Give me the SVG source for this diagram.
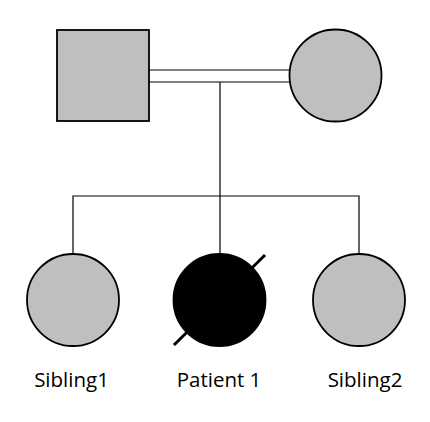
<svg xmlns="http://www.w3.org/2000/svg" width="430" height="422" viewBox="0 0 430 422">
<style>
.ind{fill:#bfbfbf;stroke:#000;stroke-width:1.8}
.aff{fill:#000;stroke:#000;stroke-width:1.8}
.ln{fill:none;stroke:#000;stroke-width:1.2}
.lbl{font-family:"Open Sans","Liberation Sans",sans-serif;font-size:20.5px;fill:#000;text-anchor:middle}
</style>
<rect width="430" height="422" fill="#fff"/>
<g id="connectors">
<line class="ln" x1="149" y1="70" x2="289" y2="70"/>
<line class="ln" x1="149" y1="82" x2="289" y2="82"/>
<line class="ln" x1="220" y1="82" x2="220" y2="254"/>
<polyline class="ln" points="73,254 73,196 359,196 359,254"/>
</g>
<g id="father"><rect class="ind" x="57" y="30" width="92" height="91"/></g>
<g id="mother"><circle class="ind" cx="335.5" cy="75.5" r="46"/></g>
<g id="sibling1"><circle class="ind" cx="73" cy="300" r="46"/><text class="lbl" x="71.5" y="386.5">Sibling1</text></g>
<g id="patient1"><circle class="aff" cx="219.5" cy="300" r="46"/><line x1="174" y1="345" x2="265" y2="255" stroke="#000" stroke-width="3"/><text class="lbl" x="219" y="386.5">Patient 1</text></g>
<g id="sibling2"><circle class="ind" cx="359" cy="300" r="46"/><text class="lbl" x="365" y="386.5">Sibling2</text></g>
</svg>
